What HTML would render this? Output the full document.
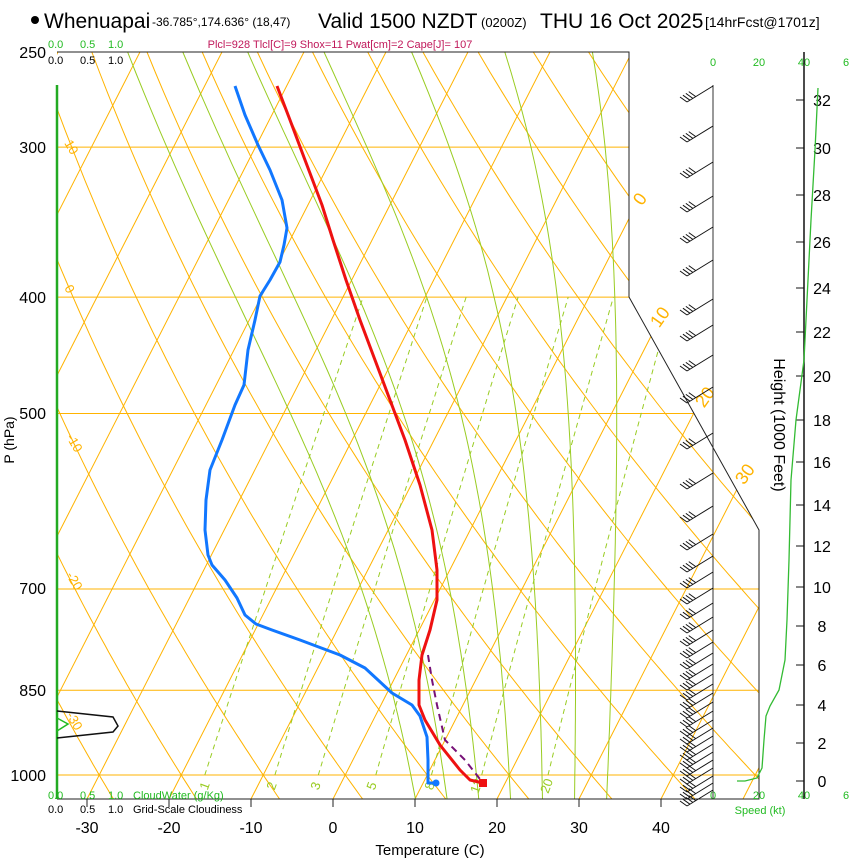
<!DOCTYPE html>
<html><head><meta charset="utf-8">
<style>
html,body{margin:0;padding:0;background:#fff;}
svg{display:block;font-family:"Liberation Sans",sans-serif;}
</style></head>
<body>
<svg id="s" width="850" height="860" viewBox="0 0 850 860" xmlns="http://www.w3.org/2000/svg">
<defs>
<clipPath id="cp"><polygon points="57,52 629,52 629,297 759,530 759,799 57,799"/></clipPath>
</defs>
<g id="grid" clip-path="url(#cp)"></g>
<g id="fg"></g>
<!-- frame -->
<polyline points="57,52 629,52 629,297 759,530 759,799 57,799" fill="none" stroke="#222" stroke-width="1"/>
<line x1="57" y1="85" x2="57" y2="799" stroke="#22aa22" stroke-width="2.5"/>
<!-- cloudiness -->
<polyline points="57,711 113,717 118,726 113,732 57,738" fill="none" stroke="#111" stroke-width="1.5"/>
<polyline points="57,718 68,724 57,731" fill="none" stroke="#22bb22" stroke-width="1.5"/>
<!-- title -->
<circle cx="35" cy="20" r="4" fill="#000"/>
<text x="44" y="28" font-size="21">Whenuapai</text>
<text x="152" y="26" font-size="12">-36.785°,174.636° (18,47)</text>
<text x="318" y="28" font-size="21">Valid 1500 NZDT</text>
<text x="481" y="27" font-size="13">(0200Z)</text>
<text x="540" y="28" font-size="21">THU 16 Oct 2025</text>
<text x="705" y="27" font-size="14">[14hrFcst@1701z]</text>
<text x="340" y="48" font-size="11" fill="#c0185a" text-anchor="middle">Plcl=928 Tlcl[C]=9 Shox=11 Pwat[cm]=2 Cape[J]= 107</text>
<g font-size="11">
<text x="48" y="48" fill="#22bb22">0.0</text><text x="80" y="48" fill="#22bb22">0.5</text><text x="108" y="48" fill="#22bb22">1.0</text>
<text x="48" y="64">0.0</text><text x="80" y="64">0.5</text><text x="108" y="64">1.0</text>
<text x="48" y="799" fill="#22bb22">0.0</text><text x="80" y="799" fill="#22bb22">0.5</text><text x="108" y="799" fill="#22bb22">1.0</text><text x="133" y="799" fill="#22bb22">CloudWater (g/Kg)</text>
<text x="48" y="813">0.0</text><text x="80" y="813">0.5</text><text x="108" y="813">1.0</text><text x="133" y="813">Grid-Scale Cloudiness</text>
</g>
<!-- pressure labels -->
<g font-size="16" text-anchor="end">
<text x="46" y="58">250</text><text x="46" y="153">300</text><text x="46" y="303">400</text><text x="46" y="419">500</text><text x="46" y="594">700</text><text x="46" y="696">850</text><text x="46" y="781">1000</text>
</g>
<text transform="translate(14,440) rotate(-90)" font-size="14" text-anchor="middle">P (hPa)</text>
<g font-size="16" text-anchor="middle">
<text x="87" y="833">-30</text><text x="169" y="833">-20</text><text x="251" y="833">-10</text><text x="333" y="833">0</text><text x="415" y="833">10</text><text x="497" y="833">20</text><text x="579" y="833">30</text><text x="661" y="833">40</text>
</g>
<g stroke="#222"><line x1="87" y1="799" x2="87" y2="807"/><line x1="169" y1="799" x2="169" y2="807"/><line x1="251" y1="799" x2="251" y2="807"/><line x1="333" y1="799" x2="333" y2="807"/><line x1="415" y1="799" x2="415" y2="807"/><line x1="497" y1="799" x2="497" y2="807"/><line x1="579" y1="799" x2="579" y2="807"/><line x1="661" y1="799" x2="661" y2="807"/></g>
<text x="430" y="855" font-size="15" text-anchor="middle">Temperature (C)</text>
<!-- speed axis labels -->
<g font-size="11" fill="#22bb22" text-anchor="middle">
<text x="713" y="66">0</text><text x="759" y="66">20</text><text x="804" y="66">40</text><text x="846" y="66">6</text>
<text x="713" y="799">0</text><text x="759" y="799">20</text><text x="804" y="799">40</text><text x="846" y="799">6</text>
<text x="760" y="814">Speed (kt)</text>
</g>
<line x1="713" y1="85" x2="713" y2="799" stroke="#333" stroke-width="1"/>
<line x1="804" y1="52" x2="804" y2="799" stroke="#111" stroke-width="1.5"/>
<g id="hax"></g>
<text transform="translate(774,425) rotate(90)" font-size="16" text-anchor="middle">Height (1000 Feet)</text>
<polyline points="818,88 815,150 811,220 807,300 804,360 796,420 791,480 789,560 787,620 785,660 779,690 770,706 766,716 764,740 762,768 757,778 745,781 737,781" fill="none" stroke="#33bb33" stroke-width="1.3"/>
<g id="barbs" stroke="#111" stroke-width="1" fill="none"></g>
</svg>
<script>
var NS="http://www.w3.org/2000/svg";
function el(p,t,a,txt){var e=document.createElementNS(NS,t);for(var k in a)e.setAttribute(k,a[k]);if(txt!==undefined)e.textContent=txt;p.appendChild(e);return e;}
function Y(p){return 775-521.5*Math.log(1000/p);}
function X(T,y){return 333+8.2*T+0.51*(799-y);}
var g=document.getElementById('grid'),fg=document.getElementById('fg');
var OR="#ffb300",GR="#99cc22";
// pressure lines
[250,300,400,500,700,850,1000].forEach(function(p){var y=Y(p);el(g,'line',{x1:57,x2:760,y1:y,y2:y,stroke:OR,'stroke-width':1});});
// isotherms
for(var T=-140;T<=50;T+=10){el(g,'line',{x1:X(T,799),y1:799,x2:X(T,40),y2:40,stroke:OR,'stroke-width':1});}
// dry adiabats
for(var th=-40;th<=170;th+=10){var pts=[];for(var p=1060;p>=235;p-=10){var Tk=(th+273.15)*Math.pow(p/1000,0.2857);var y=Y(p);pts.push(X(Tk-273.15,y).toFixed(1)+","+y.toFixed(1));}
el(g,'polyline',{points:pts.join(" "),fill:"none",stroke:OR,'stroke-width':1});}
// moist adiabats
function es(Tc){return 6.112*Math.exp(17.67*Tc/(Tc+243.5));}
function dTdp(Tk,p){var Tc=Tk-273.15;var e=es(Tc);var rs=0.622*e/(p-e);var Rd=287,Lv=2.5e6,cp=1005;return (Rd*Tk+Lv*rs)/p/(cp+Lv*Lv*rs*0.622/(Rd*Tk*Tk));}
[8,12,16,20,24,28,32].forEach(function(tw){var pts=[];var Tk=tw+273.15,p=1000;
 // down
 var T2=Tk;for(var q=1000;q<1060;q+=2){T2+=dTdp(T2,q)*2;}
 pts.push(X(T2-273.15,Y(1060)).toFixed(1)+","+Y(1060).toFixed(1));
 for(p=1000;p>=235;p-=2){if(p%10==0){var y=Y(p);pts.push(X(Tk-273.15,y).toFixed(1)+","+y.toFixed(1));}Tk-=dTdp(Tk,p)*2;}
 el(g,'polyline',{points:pts.join(" "),fill:"none",stroke:GR,'stroke-width':1});});
// mixing ratio
var mr=[[1,"1",205],[2,"2",272],[3,"3",316],[5,"5",372],[8,"8",430],[12,"12",477],[20,"20",547]];
mr.forEach(function(m){var pts=[];for(var p=1000;p>=400;p-=10){var e=m[0]*p/(622+m[0]);var l=Math.log(e/6.112);var Tc=243.5*l/(17.67-l);var y=Y(p);pts.push(X(Tc,y).toFixed(1)+","+y.toFixed(1));}
 el(g,'polyline',{points:pts.join(" "),fill:"none",stroke:GR,'stroke-width':1,'stroke-dasharray':"5,4"});
 el(fg,'text',{x:m[2],y:790,'font-size':13,fill:GR,'text-anchor':'middle',transform:"rotate(-70 "+m[2]+" 786)"},m[1]);});
// labels
[["10",64,143],["0",64,288],["-10",66,437],["-20",66,575],["-30",66,715]].forEach(function(a){el(fg,'text',{x:a[1],y:a[2],'font-size':13,fill:OR,transform:"rotate(60 "+a[1]+" "+a[2]+")"},a[0]);});
[["0",640,205],["10",660,323],["20",705,403],["30",745,480]].forEach(function(a){el(fg,'text',{x:a[1],y:a[2],'font-size':18,fill:OR,'text-anchor':'middle',transform:"rotate(-55 "+a[1]+" "+(a[2]-6)+")"},a[0]);});
// profiles
el(fg,'polyline',{points:"428,655 432,680 437,705 445,740 465,760 483,783",fill:"none",stroke:"#771177",'stroke-width':2,'stroke-dasharray':"7,5"});
el(fg,'polyline',{points:"235,86 245,115 258,145 270,170 282,200 287,228 284,245 280,262 270,280 260,296 255,320 248,350 244,385 235,405 222,440 210,470 206,500 205,530 208,555 212,565 225,580 237,598 245,615 256,624 272,630 300,640 340,655 365,668 378,680 392,693 412,705 420,716 427,737 428,760 428,783 436,783",fill:"none",stroke:"#1177ff",'stroke-width':3,'stroke-linejoin':'round'});
el(fg,'polyline',{points:"277,86 290,120 305,160 322,205 333,240 346,280 360,320 375,360 390,400 405,440 420,485 432,530 437,570 437,600 430,630 422,655 419,680 419,705 425,720 440,745 460,770 470,780 483,783",fill:"none",stroke:"#ee1111",'stroke-width':3,'stroke-linejoin':'round'});
el(fg,'circle',{cx:436,cy:783,r:3.5,fill:"#1177ff"});
el(fg,'rect',{x:479,y:779,width:8,height:8,fill:"#ee1111"});
// height axis
var hax=document.getElementById('hax');
[[32,100],[30,148],[28,195],[26,242],[24,288],[22,332],[20,376],[18,420],[16,462],[14,505],[12,546],[10,587],[8,626],[6,665],[4,705],[2,743],[0,781]].forEach(function(h){
 el(hax,'line',{x1:796,x2:804,y1:h[1],y2:h[1],stroke:"#111"});
 el(hax,'text',{x:822,y:h[1]+6,'font-size':16,'text-anchor':'middle'},""+h[0]);});
// barbs
var b=document.getElementById('barbs');
var ys=[86,126,162,196,227,260,299,325,355,387,433,473,506,534,556,572,588,603,617,630,642,653,664,674,684,693,702,711,720,728,736,744,752,760,768,776,783,790];
ys.forEach(function(y){var x0=713,x1=687,y1=y+16;
 el(b,'line',{x1:x0,y1:y,x2:x1,y2:y1});
 var dx=(x0-x1)/4,dy=(y1-y)/4;
 for(var i=0;i<4;i++){var px=x1+dx*i*0.45,py=y1-dy*i*0.45;el(b,'line',{x1:px,y1:py,x2:px-7,y2:py-5});}
});
</script>
</body></html>
